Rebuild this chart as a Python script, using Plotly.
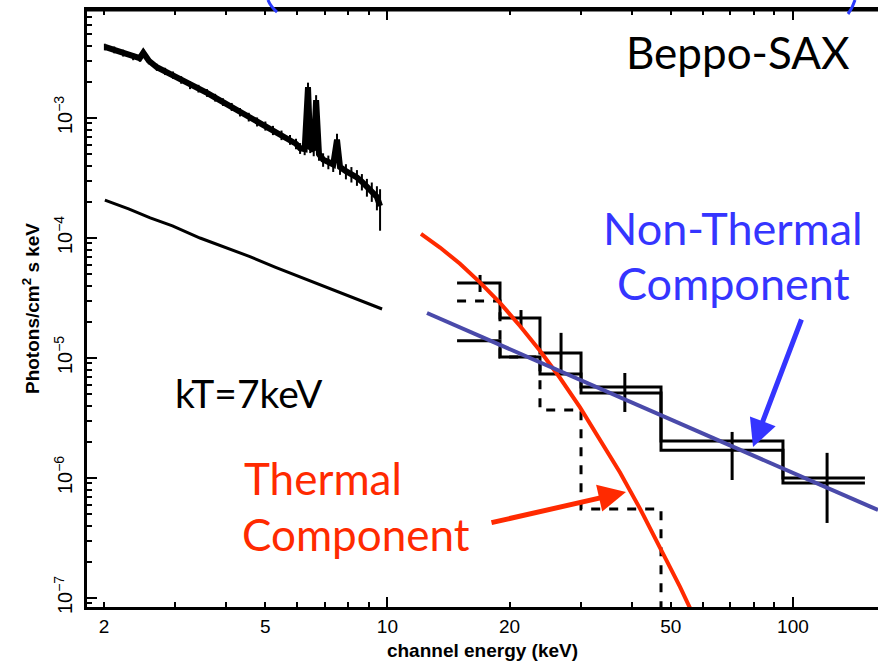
import plotly.graph_objects as go

# ---------------- data ----------------
# MECS (upper, 2-10 keV) spectrum
mecs_energy = [2.01, 2.12, 2.23, 2.36, 2.45, 2.50, 2.58, 2.70, 2.83, 2.96, 3.10, 3.26, 3.42,
               3.59, 3.76, 3.93, 4.13, 4.33, 4.55, 4.77, 5.00, 5.22, 5.48, 5.75, 5.95, 6.09,
               6.25, 6.37, 6.45, 6.58, 6.67, 6.78, 6.94, 7.15, 7.35, 7.51, 7.64, 7.90, 8.15,
               8.41, 8.65, 8.90, 9.15, 9.42, 9.59]
mecs_flux = [3.91e-3, 3.70e-3, 3.48e-3, 3.25e-3, 3.15e-3, 3.50e-3, 3.00e-3, 2.65e-3, 2.45e-3,
             2.28e-3, 2.08e-3, 1.88e-3, 1.76e-3, 1.62e-3, 1.48e-3, 1.36e-3, 1.24e-3, 1.12e-3,
             1.02e-3, 9.3e-4, 8.6e-4, 7.9e-4, 7.2e-4, 6.6e-4, 6.1e-4, 5.6e-4, 5.5e-4, 1.81e-3,
             5.7e-4, 5.4e-4, 1.41e-3, 5.0e-4, 4.5e-4, 4.3e-4, 4.1e-4, 6.6e-4, 3.9e-4, 3.6e-4,
             3.4e-4, 3.2e-4, 2.95e-4, 2.66e-4, 2.45e-4, 2.2e-4, 1.85e-4]
mecs_err = [2.5e-4, 2.4e-4, 2.3e-4, 2.2e-4, 2.1e-4, 2.6e-4, 2.0e-4, 1.8e-4, 1.7e-4, 1.6e-4,
            1.5e-4, 1.4e-4, 1.3e-4, 1.2e-4, 1.1e-4, 1.0e-4, 9.5e-5, 9.0e-5, 8.5e-5, 8.0e-5,
            7.5e-5, 7.0e-5, 6.6e-5, 6.2e-5, 6.0e-5, 5.8e-5, 6.0e-5, 1.6e-4, 6.0e-5, 6.0e-5,
            1.4e-4, 6.0e-5, 5.8e-5, 5.6e-5, 5.5e-5, 8.0e-5, 5.4e-5, 5.2e-5, 5.0e-5, 4.8e-5,
            4.6e-5, 4.5e-5, 4.5e-5, 5.0e-5, 7.0e-5]

# lower 2-10 keV spectrum
low_energy = [2.01, 2.30, 2.60, 2.95, 3.45, 3.95, 4.58, 5.30, 6.09, 6.90, 7.64, 8.60, 9.70]
low_flux = [2.07e-4, 1.75e-4, 1.47e-4, 1.26e-4, 1.00e-4, 8.4e-5, 7.0e-5, 5.7e-5, 4.75e-5,
            4.0e-5, 3.5e-5, 3.0e-5, 2.56e-5]

# PDS histograms (bin edges in keV)
pds_edges = [14.85, 18.95, 23.78, 30.02, 47.28, 94.5, 150.5]
pds_a = [4.22e-5, 2.15e-5, 1.10e-5, 5.73e-6, 2.03e-6, 1.0e-6]
pds_b = [1.39e-5, 1.02e-5, 7.36e-6, 5.10e-6, 1.70e-6, 9.1e-7]
pds_c_edges = [14.85, 18.95, 23.78, 30.02, 47.28, 94.5]
pds_c = [2.98e-5, 1.02e-5, 3.69e-6, 5.52e-7, 1.0e-8]
pds_center = [16.92, 21.35, 26.8, 38.5, 70.8, 121.4]
pds_err_hi = [4.92e-5, 2.51e-5, 1.62e-5, 7.50e-6, 2.42e-6, 1.62e-6]
pds_err_lo = [3.55e-5, 1.81e-5, 7.50e-6, 3.55e-6, 9.62e-7, 4.22e-7]

# model components
thermal_energy = [12.10, 13.48, 15.10, 16.91, 18.95, 21.23, 23.78, 26.65, 29.85, 33.44,
                  37.46, 41.96, 47.0, 52.67, 55.74]
thermal_flux = [1.08e-4, 8.33e-5, 6.10e-5, 4.27e-5, 2.88e-5, 1.85e-5, 1.15e-5, 6.81e-6,
                3.88e-6, 2.11e-6, 1.11e-6, 5.56e-7, 2.66e-7, 1.24e-7, 8.25e-8]
nonthermal_energy = [12.52, 162.1]
nonthermal_flux = [2.37e-5, 5.41e-7]

x_ticks = [2, 5, 10, 20, 50, 100]
x_minor = [3, 4, 6, 7, 8, 9, 30, 40, 60, 70, 80, 90]
x_decades = [10, 100]
y_ticks = [1e-7, 1e-6, 1e-5, 1e-4, 1e-3]
y_ticktext = ["10<sup>−7</sup>", "10<sup>−6</sup>", "10<sup>−5</sup>", "10<sup>−4</sup>", "10<sup>−3</sup>"]
y_minor = [m * 10.0 ** e for e in range(-8, -1) for m in range(2, 10)]

X_RANGE = [0.2591, 2.2098]
Y_RANGE = [-7.075, -2.1]

RED = "#ff2a00"
BLUE_TXT = "#3535ff"
BLUE_LINE = "#4a4aaa"

fig = go.Figure()

fig.add_trace(go.Scatter(x=mecs_energy, y=mecs_flux, mode="lines",
                         line=dict(color="black", width=6),
                         error_y=dict(type="data", array=mecs_err, color="black",
                                      thickness=2, width=0)))
fig.add_trace(go.Scatter(x=low_energy, y=low_flux, mode="lines",
                         line=dict(color="black", width=3)))

fig.add_trace(go.Scatter(x=pds_edges, y=pds_a + [pds_a[-1]], mode="lines",
                         line=dict(color="black", width=3, shape="hv")))
fig.add_trace(go.Scatter(x=pds_edges, y=pds_b + [pds_b[-1]], mode="lines",
                         line=dict(color="black", width=3, shape="hv")))
fig.add_trace(go.Scatter(x=pds_c_edges, y=pds_c + [pds_c[-1]], mode="lines",
                         line=dict(color="black", width=3, shape="hv", dash="dash")))
fig.add_trace(go.Scatter(x=pds_center, y=pds_a, mode="markers",
                         marker=dict(size=1, color="black"),
                         error_y=dict(type="data", symmetric=False,
                                      array=[h - v for h, v in zip(pds_err_hi, pds_a)],
                                      arrayminus=[v - l for l, v in zip(pds_err_lo, pds_a)],
                                      color="black", thickness=3, width=0)))

fig.add_trace(go.Scatter(x=thermal_energy, y=thermal_flux, mode="lines",
                         line=dict(color=RED, width=4)))
fig.add_trace(go.Scatter(x=nonthermal_energy, y=nonthermal_flux, mode="lines", xaxis="x2",
                         line=dict(color=BLUE_LINE, width=4)))

xtickfont = dict(family="Liberation Sans", size=19, color="black")
ytickfont = dict(family="Liberation Sans", size=20, color="black")
titlefont = dict(family="Liberation Sans", size=19, color="black")
fig.update_layout(
    width=878, height=661,
    margin=dict(l=87, r=0, t=10, b=54),
    paper_bgcolor="white", plot_bgcolor="white",
    showlegend=False,
    xaxis=dict(type="log", range=X_RANGE, tickvals=x_ticks, ticktext=[str(v) for v in x_ticks],
               ticks="inside", ticklen=5, tickwidth=2, tickcolor="black",
               showline=True, linecolor="black", linewidth=3, mirror="ticks",
               showgrid=False, zeroline=False, tickfont=xtickfont, automargin=False,
               minor=dict(tickvals=x_minor, ticks="inside", ticklen=5, tickwidth=2,
                          tickcolor="black", showgrid=False),
               title=dict(text="<b>channel energy (keV)</b>", font=titlefont)),
    xaxis2=dict(type="log", range=X_RANGE, overlaying="x", anchor="y", side="bottom",
                tickvals=x_decades, showticklabels=False, ticks="inside", ticklen=10,
                tickwidth=2, tickcolor="black", mirror="ticks", showline=False,
                showgrid=False, zeroline=False, automargin=False),
    yaxis=dict(type="log", range=Y_RANGE, tickvals=y_ticks, ticktext=y_ticktext,
               tickangle=-90, ticks="inside", ticklen=10, tickwidth=2, tickcolor="black",
               showline=True, linecolor="black", linewidth=3, mirror=False,
               showgrid=False, zeroline=False, tickfont=ytickfont, ticklabelstandoff=4,
               automargin=False,
               minor=dict(tickvals=y_minor, ticks="inside", ticklen=5, tickwidth=2,
                          tickcolor="black", showgrid=False),
               title=dict(text="<b>Photons/cm<sup>2</sup> s keV</b>", font=titlefont,
                          standoff=6)),
)

# top line
fig.add_shape(type="line", xref="paper", yref="paper", x0=0, x1=1, y0=1, y1=1,
              line=dict(color="black", width=3))

# blue arcs at the top (bits of an outline cropped off above the chart)
fig.add_shape(type="path", xref="paper", yref="paper",
              path="M 0.2288 1.0168 Q 0.2320 1.006 0.2402 0.9966",
              line=dict(color="#2b3bff", width=3))
fig.add_shape(type="path", xref="paper", yref="paper",
              path="M 0.9709 1.0168 Q 0.9680 1.004 0.9621 0.9933",
              line=dict(color="#2b3bff", width=3))

labfont = "Lato"
def txt(text, x, y, color, size, xanchor="center"):
    fig.add_annotation(text=text, x=x, y=y, xref="paper", yref="paper", showarrow=False,
                       xanchor=xanchor, yanchor="middle",
                       font=dict(family=labfont, size=size, color=color))

txt("Beppo-SAX", 0.8230, 0.9296, "black", 44)
txt("Non-Thermal", 0.8167, 0.6348, BLUE_TXT, 45)
txt("Component", 0.8167, 0.5427, BLUE_TXT, 45)
txt("kT=7keV", 0.1087, 0.3585, "black", 39, "left")
txt("Thermal", 0.1960, 0.2161, RED, 44, "left")
txt("Component", 0.1934, 0.1223, RED, 44, "left")

fig.add_annotation(text="", x=0.8420, y=0.2680, xref="paper", yref="paper", showarrow=True,
                   ax=49, ay=-129, arrowhead=2, arrowsize=1.1, arrowwidth=5, arrowcolor=BLUE_TXT)
fig.add_annotation(text="", x=0.6814, y=0.1926, xref="paper", yref="paper", showarrow=True,
                   ax=-136, ay=31, arrowhead=2, arrowsize=1.1, arrowwidth=5, arrowcolor=RED)

fig.write_html("out.html", config={"displayModeBar": False},
               post_script="document.body.style.margin='0px';")
